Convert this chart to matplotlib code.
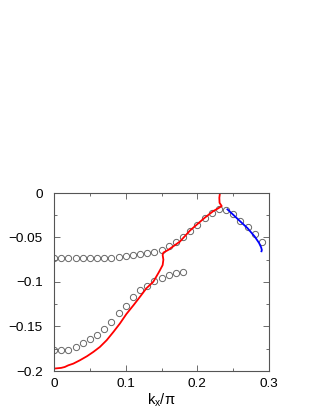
import matplotlib
matplotlib.use("Agg")
import matplotlib.pyplot as plt
import matplotlib.ticker as ticker
import numpy as np

# circle data: upper branch
upper_kx = [0.00, 0.01, 0.02, 0.03, 0.04, 0.05, 0.06, 0.07, 0.08, 0.09,
            0.10, 0.11, 0.12, 0.13, 0.14, 0.15, 0.16, 0.17, 0.18, 0.19,
            0.20, 0.21, 0.22, 0.23, 0.24, 0.25, 0.26, 0.27, 0.28, 0.29]
upper_e = [-0.0733, -0.0733, -0.0733, -0.0733, -0.0733, -0.0733, -0.0732, -0.0726, -0.0725, -0.0720,
           -0.0712, -0.0700, -0.0690, -0.0675, -0.0660, -0.0643, -0.0600, -0.0553, -0.0497, -0.0425,
           -0.0360, -0.0285, -0.0226, -0.0180, -0.0188, -0.0237, -0.0310, -0.0387, -0.0460, -0.0556]

# circle data: lower branch
lower_kx = [0.00, 0.01, 0.02, 0.03, 0.04, 0.05, 0.06, 0.07, 0.08, 0.09,
            0.10, 0.11, 0.12, 0.13, 0.14, 0.15, 0.16, 0.17, 0.18]
lower_e = [-0.1765, -0.1765, -0.1765, -0.173, -0.169, -0.1646, -0.160, -0.153, -0.1447, -0.135,
           -0.127, -0.1165, -0.109, -0.104, -0.0985, -0.0955, -0.092, -0.090, -0.089]

# red curve
red_kx = [0.000, 0.010, 0.015, 0.020, 0.027, 0.036, 0.046, 0.055, 0.064, 0.0735,
          0.083, 0.092, 0.101, 0.111, 0.120, 0.129, 0.1386, 0.1456, 0.148, 0.1516,
          0.1526, 0.1516, 0.1526, 0.1595, 0.1758, 0.190, 0.200, 0.210, 0.2223, 0.229,
          0.234, 0.231, 0.2307, 0.2316]
red_e = [-0.1973, -0.1965, -0.1955, -0.1936, -0.1917, -0.1880, -0.1834, -0.1785, -0.1730, -0.1654,
         -0.1560, -0.1466, -0.1360, -0.1260, -0.1166, -0.1070, -0.0997, -0.0900, -0.0865, -0.0810,
         -0.0750, -0.0696, -0.0670, -0.0639, -0.0545, -0.0420, -0.0350, -0.0280, -0.0203, -0.0173,
         -0.0147, -0.0110, -0.0053, 0.0000]

# blue curve
blue_kx = [0.242, 0.250, 0.260, 0.270, 0.280, 0.286, 0.289, 0.290, 0.2895]
blue_e = [-0.0184, -0.0244, -0.0320, -0.0395, -0.0489, -0.0560, -0.0610, -0.0640, -0.0655]

plt.rcParams["font.family"] = ["Liberation Sans", "DejaVu Sans"]
plt.rcParams["font.size"] = 9.7
plt.rcParams["mathtext.fontset"] = "custom"
plt.rcParams["mathtext.rm"] = "Liberation Sans"
plt.rcParams["mathtext.it"] = "Liberation Sans"

fig = plt.figure(figsize=(3.24, 4.19), dpi=100)
ax = fig.add_axes([54 / 324, 1 - 371 / 419, 215 / 324, 178 / 419])

ax.plot(upper_kx, upper_e, ls="none", marker="o", ms=4.5, mfc="none", mec="#666666", mew=0.7)
ax.plot(lower_kx, lower_e, ls="none", marker="o", ms=4.5, mfc="none", mec="#666666", mew=0.7)
ax.plot(red_kx, red_e, color="red", lw=1.3)
ax.plot(blue_kx, blue_e, color="blue", lw=1.3)

ax.set_xlim(0, 0.3)
ax.set_ylim(-0.2, 0)
ax.xaxis.set_major_locator(ticker.MultipleLocator(0.1))
ax.xaxis.set_minor_locator(ticker.MultipleLocator(0.05))
ax.yaxis.set_major_locator(ticker.MultipleLocator(0.05))
ax.yaxis.set_minor_locator(ticker.MultipleLocator(0.025))
ax.xaxis.set_major_formatter(ticker.FuncFormatter(lambda v, p: "0" if abs(v) < 1e-9 else ("%g" % v)))
ax.yaxis.set_major_formatter(ticker.FuncFormatter(lambda v, p: "0" if abs(v) < 1e-9 else ("%g" % v).replace("-", "\u2212")))

ax.tick_params(which="both", direction="in", top=True, right=True, color="#555555", width=0.6)
ax.tick_params(which="major", length=4, pad=5)
ax.tick_params(which="minor", length=2)
ax.tick_params(axis="y", pad=8)
for s in ax.spines.values():
    s.set_color("#555555")
    s.set_linewidth(0.8)

ax.set_xlabel("k$_\\mathregular{x}$/\u03c0", fontsize=10.5, labelpad=1)

fig.savefig("out.png", dpi=100)
